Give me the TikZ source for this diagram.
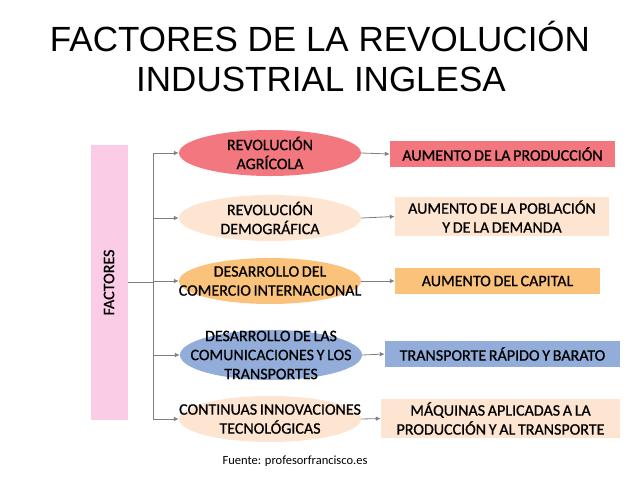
\documentclass[tikz,border=0pt]{standalone}
\usepackage{fontspec}
\setmainfont{Carlito}[FakeBold=0.8, WordSpace=0.75]
\newfontfamily\titlefont{Liberation Sans}
\newfontfamily\fuentefont{Carlito}
\usepackage{tikz}
\usetikzlibrary{shapes.geometric}
\usetikzlibrary{arrows.meta}
\pgfdeclarelayer{edgelayer}
\pgfdeclarelayer{nodelayer}
\pgfsetlayers{edgelayer,nodelayer,main}
\definecolor{rojo}{HTML}{F2777F}
\definecolor{crema}{HTML}{FDE5D1}
\definecolor{naranja}{HTML}{FAC27B}
\definecolor{azul}{HTML}{93ADDB}
\definecolor{rosa}{HTML}{FACCE6}
\definecolor{linea}{HTML}{7F7F7F}
\tikzstyle{none}=[inner sep=0pt]
\tikzstyle{titulo}=[inner sep=0pt, anchor=base, font=\titlefont\fontsize{35}{35}\selectfont]
\tikzstyle{texto}=[inner sep=0pt, align=center, font=\fontsize{16}{19}\selectfont]
\tikzstyle{factor}=[ellipse, inner sep=0pt, minimum width=182, minimum height=46]
\tikzstyle{efecto}=[rectangle, inner sep=0pt, align=center, minimum height=26, font=\fontsize{16}{19}\selectfont]
\tikzstyle{flecha}=[draw=linea, line width=0.8, -{Latex[length=5,width=4.5]}]
\tikzstyle{rama}=[draw=linea, line width=0.8]

\begin{document}
\begin{tikzpicture}[x=1pt, y=-1pt]
	\useasboundingbox (0, 0) rectangle (640, 480);
	\begin{pgfonlayer}{nodelayer}
		\node [style=titulo] (t1) at (320, 51) {FACTORES DE LA REVOLUCIÓN};
		\node [style=titulo] (t2) at (321, 91) {INDUSTRIAL INGLESA};
		\node [rectangle, fill=rosa, minimum width=37, minimum height=275] (f) at (109, 282.5) {};
		\node [style=texto, rotate=90] at (f) {FACTORES};
		\node [style=factor, fill=rojo] (e1) at (270, 153) {};
		\node [style=factor, fill=crema] (e2) at (270, 218) {};
		\node [style=factor, fill=naranja] (e3) at (270, 281) {};
		\node [style=factor, fill=azul, minimum height=50] (e4) at (271, 355) {};
		\node [style=factor, fill=crema] (e5) at (270, 419) {};
		\node [style=texto] at (e1) {REVOLUCIÓN\\AGRÍCOLA};
		\node [style=texto] at (e2) {REVOLUCIÓN\\DEMOGRÁFICA};
		\node [style=texto] at (e3) {DESARROLLO DEL\\COMERCIO INTERNACIONAL};
		\node [style=texto] at (e4) {DESARROLLO DE LAS\\COMUNICACIONES Y LOS\\TRANSPORTES};
		\node [style=texto] at (e5) {CONTINUAS INNOVACIONES\\TECNOLÓGICAS};
		\node [style=efecto, fill=rojo, minimum width=225] (b1) at (502.5, 154) {AUMENTO DE LA PRODUCCIÓN};
		\node [style=efecto, fill=crema, minimum width=214, minimum height=39] (b2) at (502, 216.5) {AUMENTO DE LA POBLACIÓN\\Y DE LA DEMANDA};
		\node [style=efecto, fill=naranja, minimum width=205] (b3) at (497.5, 281) {AUMENTO DEL CAPITAL};
		\node [style=efecto, fill=azul, minimum width=235] (b4) at (502.5, 354) {TRANSPORTE RÁPIDO Y BARATO};
		\node [style=efecto, fill=crema, minimum width=239, minimum height=39] (b5) at (500.5, 418.5) {MÁQUINAS APLICADAS A LA\\PRODUCCIÓN Y AL TRANSPORTE};
		\node [style=none, font=\fuentefont\fontsize{12.5}{15}\selectfont] (fuente) at (295, 461) {Fuente: profesorfrancisco.es};
		\coordinate (tronco) at (153, 282.5);
	\end{pgfonlayer}
	\begin{pgfonlayer}{edgelayer}
		\draw [style=rama] (f.east) to (tronco);
		\draw [style=rama] (tronco |- e1.west) to (tronco |- e5.west);
		\foreach \i in {1,...,5} {
			\draw [style=flecha] (tronco |- e\i.west) to (e\i.west);
			\draw [style=flecha] (e\i.east) to (b\i.west);
		}
	\end{pgfonlayer}
\end{tikzpicture}
\end{document}
